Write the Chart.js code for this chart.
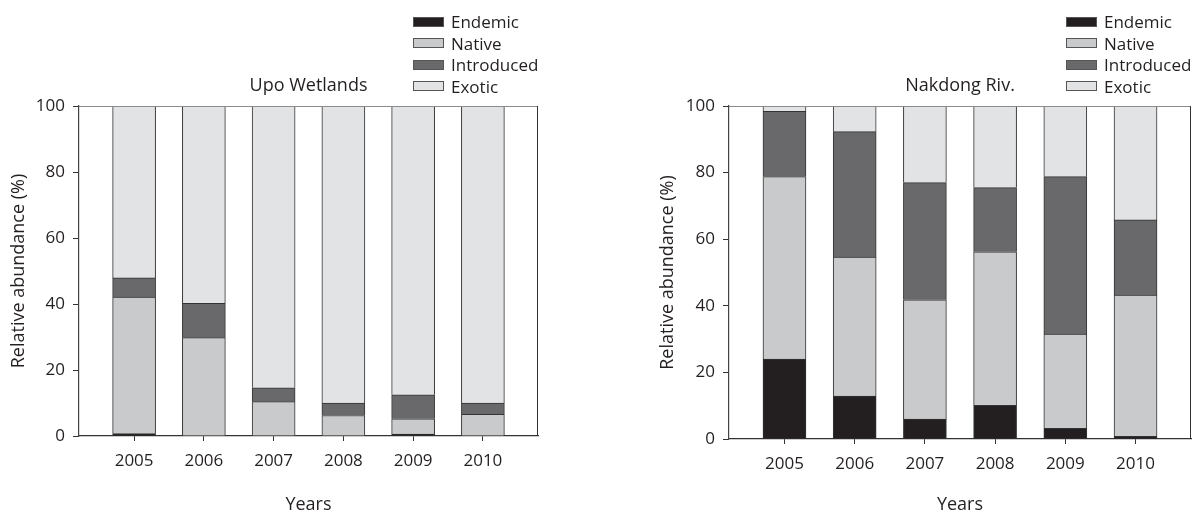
<!DOCTYPE html>
<html lang="en">
<head>
  <meta charset="UTF-8" />
  <title>Relative abundance by origin</title>
  <script src="https://cdn.jsdelivr.net/npm/chart.js"></script>
  <style>
    body {
      margin: 0;
      background: #fff;
      font-family: "Open Sans", sans-serif;
      color: #231f20;
    }
    canvas {
      position: absolute;
      top: 0;
    }
    .legend {
      position: absolute;
      top: 11px;
      font-size: 17px;
    }
    .legend-row {
      height: 21.5px;
      display: flex;
      align-items: center;
    }
    .legend-box {
      width: 29px;
      height: 8px;
      border: 1px solid #555;
      margin-right: 7px;
    }
  </style>
</head>
<body>

<canvas id="upo" width="600" height="514" style="left:0"></canvas>
<canvas id="nak" width="598" height="514" style="left:600px"></canvas>
<div class="legend" id="legend_upo" style="left:413px"></div>
<div class="legend" id="legend_nak" style="left:1066px"></div>

<script>
const years = [2005, 2006, 2007, 2008, 2009, 2010];
const groups = ['Endemic', 'Native', 'Introduced', 'Exotic'];

// Upo Wetlands (%)
const upoEndemic    = [0.7, 0, 0, 0, 0.6, 0];
const upoNative     = [41.4, 29.8, 10.4, 6.2, 4.6, 6.6];
const upoIntroduced = [5.8, 10.4, 4.2, 3.8, 7.3, 3.4];
const upoExotic     = [52.1, 59.8, 85.4, 90.0, 87.5, 90.0];

// Nakdong Riv. (%)
const nakEndemic    = [24.0, 12.9, 6.0, 10.1, 3.2, 0.8];
const nakNative     = [54.8, 41.7, 35.8, 46.1, 28.3, 42.4];
const nakIntroduced = [19.6, 37.7, 35.2, 19.3, 47.3, 22.6];
const nakExotic     = [1.6, 7.7, 23.0, 24.5, 21.2, 34.2];

const yTicks = [0, 20, 40, 60, 80, 100];

const colors = ['#231f20', '#c9cacc', '#69696b', '#e2e3e5'];
const ink = '#231f20';

// legend (html)
function buildLegend(el) {
  groups.forEach((g, i) => {
    const row = document.createElement('div');
    row.className = 'legend-row';
    row.innerHTML = `<span class="legend-box" style="background:${colors[i]}"></span>${g}`;
    el.appendChild(row);
  });
}
buildLegend(document.getElementById('legend_upo'));
buildLegend(document.getElementById('legend_nak'));

// box top + right
const frame = {
  id: 'frame',
  afterDraw(chart) {
    const { ctx, chartArea: a } = chart;
    ctx.save();
    ctx.lineWidth = 1;
    ctx.strokeStyle = '#8c8c8c';
    ctx.beginPath();
    ctx.moveTo(a.left, a.top + 0.5);
    ctx.lineTo(a.right, a.top + 0.5);
    ctx.stroke();
    ctx.strokeStyle = '#333';
    ctx.beginPath();
    ctx.moveTo(a.right - 0.5, a.top);
    ctx.lineTo(a.right - 0.5, a.bottom);
    ctx.stroke();
    ctx.restore();
  }
};

function makeChart(id, title, series, pad, yWidth, xHeight) {
  new Chart(document.getElementById(id), {
    type: 'bar',
    data: {
      labels: years,
      datasets: series.map((s, i) => ({
        label: groups[i],
        data: s,
        backgroundColor: colors[i],
        borderColor: '#333',
        borderWidth: 1,
        barThickness: 43
      }))
    },
    options: {
      responsive: false,
      animation: false,
      layout: { padding: pad },
      plugins: {
        legend: { display: false },
        tooltip: { enabled: false },
        title: {
          display: true,
          text: title,
          fullSize: false,
          color: ink,
          font: { family: 'Open Sans', size: 18, weight: 'normal', lineHeight: 1.2 },
          padding: { top: 75.2, bottom: 9.2 }
        }
      },
      scales: {
        x: {
          type: 'linear',
          stacked: true,
          min: 2004.21,
          max: 2010.79,
          offset: false,
          afterBuildTicks: ax => { ax.ticks = years.map(v => ({ value: v })); },
          afterFit: s => { s.height = xHeight; },
          ticks: {
            callback: v => String(v),
            color: ink,
            padding: 11,
            maxRotation: 0,
            font: { family: 'Open Sans', size: 17, lineHeight: 1.1 }
          },
          grid: { offset: false, drawOnChartArea: false, tickLength: 5, tickColor: '#333' },
          border: { color: '#333', width: 1.2 },
          title: {
            display: true,
            text: 'Years',
            color: ink,
            padding: { top: 0, bottom: 0 },
            font: { family: 'Open Sans', size: 18, lineHeight: 1 }
          }
        },
        y: {
          stacked: true,
          min: 0,
          max: 100,
          afterBuildTicks: ax => { ax.ticks = yTicks.map(v => ({ value: v })); },
          afterFit: s => { s.width = yWidth; },
          ticks: {
            color: ink,
            padding: 8,
            font: { family: 'Open Sans', size: 17 }
          },
          grid: { drawOnChartArea: false, tickLength: 6, tickColor: '#333' },
          border: { color: '#444', width: 1.2 },
          title: {
            display: true,
            text: 'Relative abundance (%)',
            color: ink,
            padding: { top: 8, bottom: 0 },
            font: { family: 'Open Sans', size: 18, lineHeight: 1.2 }
          }
        }
      }
    },
    plugins: [frame]
  });
}

makeChart('upo', 'Upo Wetlands',
  [upoEndemic, upoNative, upoIntroduced, upoExotic],
  { left: 0, right: 62, top: 0, bottom: 0 }, 79, 78);

makeChart('nak', 'Nakdong Riv.',
  [nakEndemic, nakNative, nakIntroduced, nakExotic],
  { left: 49, right: 7, top: 0, bottom: 0 }, 80, 75);
</script>
</body>
</html>
